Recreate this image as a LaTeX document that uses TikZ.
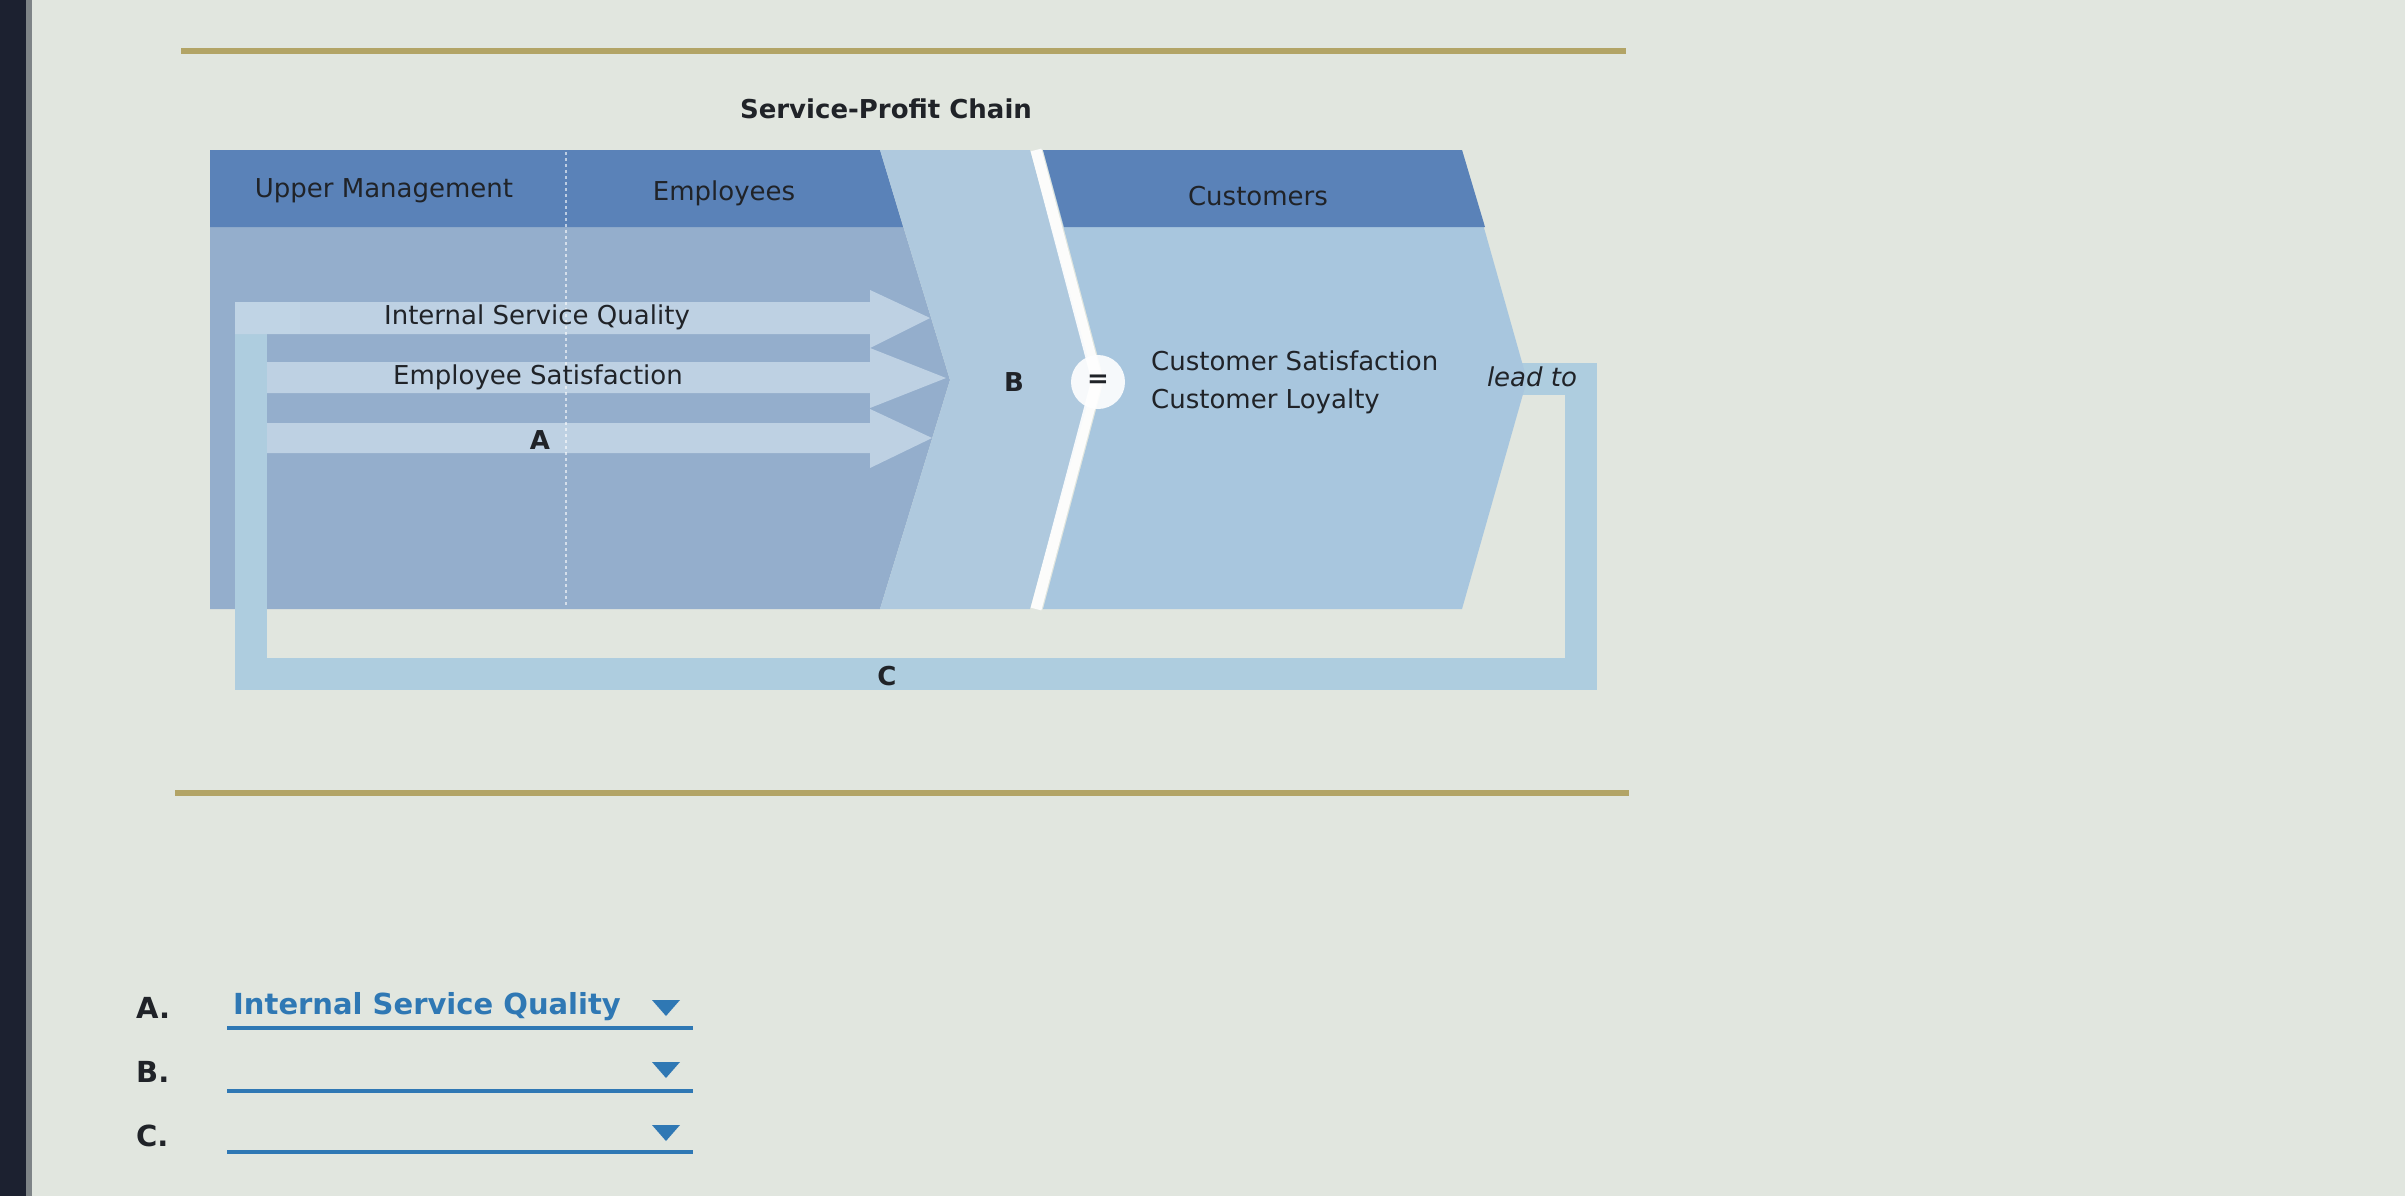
\documentclass[tikz,border=0pt]{standalone}
\usepackage{fontspec}
\setmainfont{DejaVu Sans}
\definecolor{bgc}{HTML}{E1E6DF}
\definecolor{bezel}{HTML}{1C2130}
\definecolor{gold}{HTML}{B2A466}
\definecolor{hdr}{HTML}{5A82B8}
\definecolor{panel}{HTML}{94AECC}
\definecolor{arrowc}{HTML}{C3D5E6}
\definecolor{midc}{HTML}{AFC9DE}
\definecolor{custc}{HTML}{A8C6DE}
\definecolor{loopc}{HTML}{AECDDF}
\definecolor{textc}{HTML}{202328}
\definecolor{qblue}{HTML}{2F78B4}
\begin{document}
\begin{tikzpicture}[x=1pt,y=-1pt,
  txt/.style={text=textc, inner sep=0pt, font=\fontsize{26}{31}\selectfont},
  btxt/.style={text=textc, inner sep=0pt, font=\fontsize{26}{31}\selectfont\bfseries},
  qtxt/.style={text=textc, inner sep=0pt, font=\fontsize{29}{34}\selectfont\bfseries},
  answer/.style={text=qblue, inner sep=0pt, font=\fontsize{29}{34}\selectfont\bfseries},
  goldline/.style={draw=gold, line width=6pt},
  qline/.style={draw=qblue, line width=4pt},
  tri/.style={fill=qblue},
  flowarrow/.style={fill=arrowc, fill opacity=0.9}]
\useasboundingbox (0,0) rectangle (2405,1196);
% background and bezel
\fill[bgc] (0,0) rectangle (2405,1196);
\fill[bezel] (0,0) rectangle (26,1196);
\fill[bezel!50!bgc] (26,0) rectangle (32,1196);
% gold rules
\draw[goldline] (181,51) -- (1626,51);
\draw[goldline] (175,793) -- (1629,793);
% title
\node[btxt] (title) at (886,109) {Service-Profit Chain};
% left chevron panel
\fill[panel] (210,150) -- (880,150) -- (950,380) -- (880,609) -- (210,609) -- cycle;
\fill[hdr] (210,150) -- (880,150) -- (903,227) -- (210,227) -- cycle;
% middle chevron
\fill[midc] (880,150) -- (1030,150) -- (1094,380) -- (1030,609) -- (880,609) -- (950,380) -- cycle;
% feedback loop band C
\draw[loopc, line width=32pt, line join=miter] (1505,379) -- (1581,379) -- (1581,674) -- (251,674) -- (251,318) -- (300,318);
% flow arrows
\fill[flowarrow] (235,302) -- (870,302) -- (870,290) -- (930,318) -- (870,348) -- (870,334) -- (235,334) -- cycle;
\fill[flowarrow] (267,362) -- (870,362) -- (870,348) -- (946,378) -- (870,408) -- (870,393) -- (267,393) -- cycle;
\fill[flowarrow] (267,423) -- (870,423) -- (870,409) -- (932,438) -- (870,468) -- (870,453) -- (267,453) -- cycle;
% dotted divider
\draw[white, opacity=0.6, line width=2pt, dash pattern=on 3pt off 3pt] (566,152) -- (566,607);
% white separator chevron
\draw[white, opacity=0.9, line width=11pt, line join=miter] (1036,150) -- (1097,380) -- (1036,609);
% customers chevron
\fill[custc] (1043,150) -- (1462,150) -- (1527,380) -- (1462,609) -- (1043,609) -- (1104,380) -- cycle;
\fill[hdr] (1043,150) -- (1462,150) -- (1485,227) -- (1064,227) -- cycle;
\fill[white, opacity=0.9] (1098,382) circle (27);
% header texts
\node[txt] (um) at (384,191) {Upper Management};
\node[txt] (emp) at (724,193) {Employees};
\node[txt] (cust) at (1258,196) {Customers};
% arrow labels
\node[txt] (isq) at (537,317) {Internal Service Quality};
\node[txt] (es) at (538,377) {Employee Satisfaction};
\node[btxt] (a) at (540,440) {A};
\node[btxt] (b) at (1014,382) {B};
\node[btxt] (eq) at (1098,381) {=};
\node[txt, anchor=west] (cs) at (1151,361) {Customer Satisfaction};
\node[txt, anchor=west] (cl) at (1151,401) {Customer Loyalty};
\node[txt, font=\fontsize{26}{31}\selectfont\itshape] (lead) at (1532,377) {lead to};
\node[btxt] (c) at (887,676) {C};
% question area
\node[qtxt, anchor=west] (qa) at (136,1008) {A.};
\node[qtxt, anchor=west] (qb) at (136,1072) {B.};
\node[qtxt, anchor=west] (qc) at (136,1136) {C.};
\node[answer, anchor=west] (ans) at (233,1007) {Internal Service Quality};
\draw[qline] (227,1028) -- (693,1028);
\draw[qline] (227,1091) -- (693,1091);
\draw[qline] (227,1152) -- (693,1152);
\fill[tri] (652,1000) -- (680,1000) -- (666,1016) -- cycle;
\fill[tri] (652,1062) -- (680,1062) -- (666,1078) -- cycle;
\fill[tri] (652,1125) -- (680,1125) -- (666,1141) -- cycle;
\end{tikzpicture}
\end{document}
